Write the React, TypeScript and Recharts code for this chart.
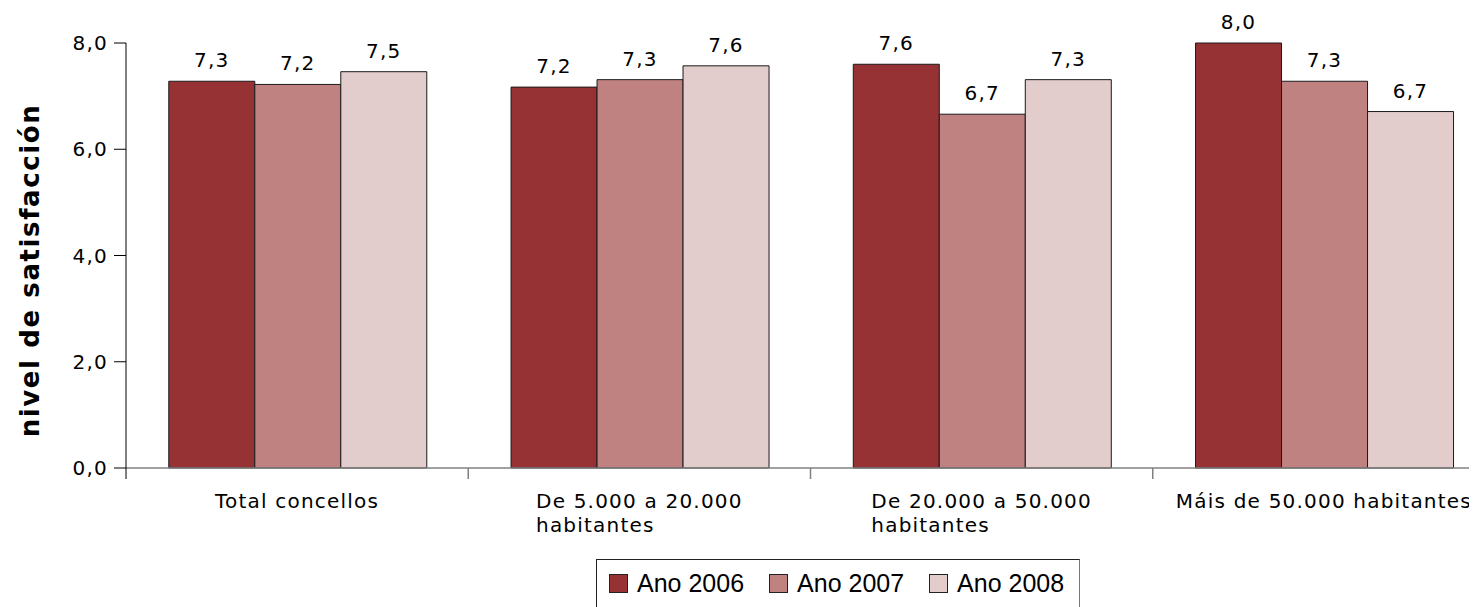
import React, { useLayoutEffect, useRef, useState } from "react";
import { BarChart, Bar, XAxis, YAxis, LabelList } from "recharts";

const categories = [
  "Total concellos",
  "De 5.000 a 20.000\nhabitantes",
  "De 20.000 a 50.000\nhabitantes",
  "Máis de 50.000 habitantes",
];
const ano2006 = [7.28, 7.17, 7.6, 8.0];
const ano2007 = [7.22, 7.31, 6.66, 7.28];
const ano2008 = [7.46, 7.57, 7.31, 6.71];
const seriesNames = ["Ano 2006", "Ano 2007", "Ano 2008"];
const seriesKeys = ["a2006", "a2007", "a2008"];
const colors = ["#963234", "#C08280", "#E3CCCC"];
const yTicks = [0, 2, 4, 6, 8];
const yTitle = "nivel de satisfacción";

const data = categories.map((c, i) => ({
  cat: c,
  a2006: ano2006[i],
  a2007: ano2007[i],
  a2008: ano2008[i],
}));

const FONT = "'DejaVu Sans', sans-serif";
const fmt = (v: number) => (Math.round(v * 10) / 10).toFixed(1).replace(".", ",");

const CatTick = (props: any) => {
  const { x, y, payload, index, visibleTicksCount } = props;
  const lines: string[] = String(payload.value).split("\n");
  const half = Number(payload.offset) || 0;
  const ref = useRef<SVGTextElement>(null);
  const [w, setW] = useState(0);
  useLayoutEffect(() => {
    if (ref.current) setW(ref.current.getComputedTextLength());
  }, [payload.value]);
  const left = x - w / 2;
  const isLast = index === visibleTicksCount - 1;
  return (
    <g>
      <line
        x1={x - half}
        x2={x - half}
        y1={y}
        y2={y + 11}
        stroke={index === 0 ? "#000" : "#808080"}
        strokeWidth={index === 0 ? 1 : 1.5}
      />
      {isLast && (
        <line x1={x + half} x2={x + half} y1={y} y2={y + 11} stroke="#808080" strokeWidth={1.5} />
      )}
      {lines.map((ln, i) => (
        <text
          key={i}
          ref={i === 0 ? ref : undefined}
          x={i === 0 ? x : left}
          y={y + 40 + i * 24}
          textAnchor={i === 0 ? "middle" : "start"}
          fontFamily={FONT}
          fontSize={20}
          letterSpacing={1.2}
          fill="#000"
        >
          {ln}
        </text>
      ))}
    </g>
  );
};

const YTitle = (props: any) => {
  const { viewBox } = props;
  const cy = viewBox.y + viewBox.height / 2 + 15;
  return (
    <text
      x={22}
      y={cy}
      transform={`rotate(-90, 22, ${cy})`}
      textAnchor="middle"
      dominantBaseline="central"
      fontFamily={FONT}
      fontWeight="bold"
      fontSize={26}
      letterSpacing={1.6}
      fill="#000"
    >
      {yTitle}
    </text>
  );
};

export default function App() {
  return (
    <div style={{ position: "relative", width: 1469, height: 599, overflow: "hidden" }}>
      <BarChart
        width={1490}
        height={599}
        data={data}
        margin={{ top: 35, right: 3, bottom: 0, left: 0 }}
        barCategoryGap="12.5%"
        barGap={0}
      >
        <XAxis
          dataKey="cat"
          height={139}
          axisLine={{ stroke: "#808080", strokeWidth: 1.5 }}
          tickLine={false}
          tickSize={0}
          tickMargin={0}
          tick={<CatTick />}
          interval={0}
        />
        <YAxis
          width={118}
          domain={[0, 8]}
          ticks={yTicks}
          tickFormatter={fmt}
          tickSize={12}
          tickMargin={6}
          axisLine={{ stroke: "#000" }}
          tickLine={{ stroke: "#000" }}
          tick={{ fill: "#000", fontFamily: FONT, fontSize: 20, letterSpacing: 1.2 }}
          label={<YTitle />}
        />
        {seriesKeys.map((k, i) => (
          <Bar
            key={k}
            dataKey={k}
            name={seriesNames[i]}
            fill={colors[i]}
            stroke="#1a1a1a"
            strokeWidth={1}
            isAnimationActive={false}
          >
            <LabelList
              dataKey={k}
              position="top"
              offset={14}
              formatter={(v: any) => fmt(Number(v))}
              fill="#000"
              fontFamily={FONT}
              fontSize={20}
              letterSpacing={1.2}
            />
          </Bar>
        ))}
      </BarChart>
      <div
        style={{
          position: "absolute",
          left: 588,
          top: 551,
          width: 484,
          height: 52,
          boxSizing: "border-box",
          borderTop: "1px solid #222",
          borderLeft: "1px solid #222",
          borderRight: "1px solid #777",
          borderBottom: "1px solid #777",
          display: "flex",
          alignItems: "center",
          paddingLeft: 12,
          paddingBottom: 4,
          fontFamily: "'Liberation Sans', Arial, sans-serif",
          fontSize: 25,
          color: "#000",
          whiteSpace: "nowrap",
        }}
      >
        {seriesNames.map((n, i) => (
          <div key={n} style={{ display: "flex", alignItems: "center", marginRight: 25, flexShrink: 0 }}>
            <span
              style={{
                display: "inline-block",
                boxSizing: "border-box",
                width: 19,
                height: 19,
                background: colors[i],
                border: "1px solid #222",
                marginRight: 9,
                flexShrink: 0,
              }}
            />
            <span>{n}</span>
          </div>
        ))}
      </div>
    </div>
  );
}
